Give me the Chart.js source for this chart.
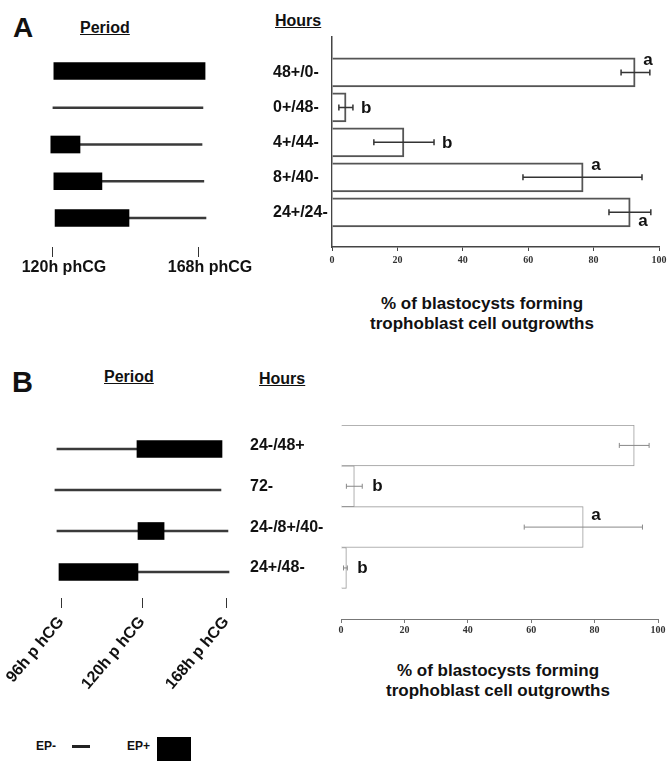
<!DOCTYPE html>
<html>
<head>
<meta charset="utf-8">
<script src="https://cdn.jsdelivr.net/npm/chart.js@4/dist/chart.umd.min.js"></script>
<style>
  body { margin: 0; background: #fff; }
  #page { position: relative; width: 670px; height: 761px; overflow: hidden;
          font-family: "Liberation Sans", Arial, sans-serif; font-weight: bold; color: #111; }
  #page canvas, #page .t { position: absolute; }
  .t { white-space: nowrap; }
  .panel { font-size: 28px; line-height: 28px; }
  .head { font-size: 16px; line-height: 16px; text-decoration: underline; }
  .axis-title { font-size: 17px; line-height: 20px; text-align: center; width: 300px; }
  .legend { font-size: 12px; line-height: 12px; }
  .swatch { position: absolute; }
</style>
</head>
<body>
<div id="page">
  <div class="t panel" style="left:13px;top:14px">A</div>
  <div class="t head" style="left:80px;top:20px">Period</div>
  <div class="t head" style="left:275px;top:13px">Hours</div>
  <canvas id="period-a" width="265" height="247" style="left:0;top:30px"></canvas>
  <canvas id="bars-a" width="397" height="241" style="left:273px;top:36px"></canvas>
  <div class="t axis-title" style="left:332px;top:294px">% of blastocysts forming<br>trophoblast cell outgrowths</div>

  <div class="t panel" style="left:12px;top:368px;font-size:29px">B</div>
  <div class="t head" style="left:104px;top:369px">Period</div>
  <div class="t head" style="left:259px;top:371px">Hours</div>
  <canvas id="period-b" width="250" height="278" style="left:0;top:420px"></canvas>
  <canvas id="bars-b" width="420" height="224" style="left:250px;top:425px"></canvas>
  <div class="t axis-title" style="left:348px;top:661px">% of blastocysts forming<br>trophoblast cell outgrowths</div>

  <div class="t legend" style="left:36px;top:740px">EP-</div>
  <div class="swatch" style="left:72px;top:745px;width:18px;height:3px;background:#222"></div>
  <div class="t legend" style="left:127px;top:740px">EP+</div>
  <div class="swatch" style="left:157px;top:737px;width:34px;height:24px;background:#000"></div>
</div>
<script>
// ---- panel A data ----
const hoursA = ['48+/0-', '0+/48-', '4+/44-', '8+/40-', '24+/24-'];
const outgrowthA = [92.7, 4.3, 22.0, 76.8, 91.2];
const errLowA = [88.4, 2.1, 12.8, 58.4, 84.7];
const errHighA = [97.2, 6.4, 31.2, 94.8, 97.5];
const lettersA = ['a', 'b', 'b', 'a', 'a'];
// period diagram, hours p hCG: EP+ (thick) and EP- (thin) segments per row
const epPlusA = [[120.3, 170], null, [119.3, 128.9], [120.3, 136.1], [120.7, 145]];
const epMinusA = [null, [120, 169.3], [128.9, 169], [136.1, 169.6], [145, 170.3]];
const periodTicksA = [120, 168];

// ---- panel B data ----
const hoursB = ['24-/48+', '72-', '24-/8+/40-', '24+/48-'];
const outgrowthB = [92.5, 4.2, 76.4, 1.7];
const errLowB = [87.8, 1.7, 57.8, 0.8];
const errHighB = [97.2, 6.7, 95.1, 2.0];
const lettersB = ['', 'b', 'a', 'b'];
const epPlusB = [[118.5, 165.7], null, [118.8, 132.6], [95.4, 118.8]];
const epMinusB = [[94.8, 118.5], [94.2, 165.1], [94.8, 169.1], [118.8, 169.7]];
const periodTicksB = [96, 120, 168];
// the B diagram is schematic: 96-120h takes about as much room as 120-168h
const periodUnitsB = [0, 0.491, 1];

const FONT = '"Liberation Sans", Arial, sans-serif';
Chart.defaults.font.family = FONT;
Chart.defaults.color = '#111';

const LinearScale = Chart.LinearScale || Chart.registry.getScale('linear');

function schematicUnit(v) {
  const k = periodTicksB, u = periodUnitsB;
  let i = 1;
  while (i < k.length - 1 && v > k[i]) i++;
  return u[i - 1] + (v - k[i - 1]) * (u[i] - u[i - 1]) / (k[i] - k[i - 1]);
}

class SchematicScale extends LinearScale {
  getPixelForValue(value) {
    const u0 = schematicUnit(this.min), u1 = schematicUnit(this.max);
    return this.getPixelForDecimal((schematicUnit(value) - u0) / (u1 - u0));
  }
}
SchematicScale.id = 'schematic';
SchematicScale.defaults = LinearScale.defaults;
Chart.register(SchematicScale);

function rows(segments) {
  return segments.map((s, i) => s ? { x: s, y: i } : null).filter(Boolean);
}

function baseOptions(scales, extra) {
  return Object.assign({
    responsive: false, animation: false, events: [], indexAxis: 'y',
    layout: { autoPadding: false, padding: 0 },
    plugins: { legend: { display: false }, tooltip: { enabled: false } },
    scales
  }, extra || {});
}

function fixHeight(h) {
  return s => { s.height = h; s.paddingLeft = s.paddingRight = 0; };
}
function fixWidth(w) {
  return s => { s.width = w; s.paddingTop = s.paddingBottom = 0; };
}

// error bars and significance letters drawn on top of the bars
function marksPlugin(low, high, letters, place, st) {
  return {
    id: 'marks',
    afterDatasetsDraw(chart) {
      const { ctx, scales: { x } } = chart;
      const bars = chart.getDatasetMeta(0).data;
      ctx.save();
      ctx.strokeStyle = st.color;
      ctx.lineWidth = st.width;
      low.forEach((lo, i) => {
        const cy = bars[i].y;
        const x0 = x.getPixelForValue(lo), x1 = x.getPixelForValue(high[i]);
        ctx.beginPath();
        ctx.moveTo(x0, cy); ctx.lineTo(x1, cy);
        ctx.moveTo(x0, cy - st.cap); ctx.lineTo(x0, cy + st.cap);
        ctx.moveTo(x1, cy - st.cap); ctx.lineTo(x1, cy + st.cap);
        ctx.stroke();
      });
      ctx.fillStyle = '#111';
      ctx.font = 'bold 17px ' + FONT;
      ctx.textAlign = 'left';
      ctx.textBaseline = 'alphabetic';
      letters.forEach((t, i) => {
        if (!t) return;
        const bar = bars[i], half = bar.height / 2;
        let tx, ty;
        if (place[i] === 'right') {
          tx = x.getPixelForValue(high[i]) + st.dxRight; ty = bar.y + st.dyRight;
        } else if (place[i] === 'top') {
          tx = bar.x + st.dxEnd; ty = bar.y - half + st.dyTop;
        } else {
          tx = bar.x + st.dxEnd; ty = bar.y + half + st.dyBottom;
        }
        ctx.fillText(t, tx, ty);
      });
      ctx.restore();
    }
  };
}

function periodChart(id, plus, minus, xScale, yMin, yMax) {
  new Chart(document.getElementById(id), {
    type: 'bar',
    data: {
      datasets: [
        { data: rows(plus), backgroundColor: '#000', barThickness: 17, grouped: false },
        { data: rows(minus), backgroundColor: '#3a3a3a', barThickness: 2, grouped: false }
      ]
    },
    options: baseOptions({
      x: xScale,
      y: { type: 'linear', display: false, reverse: true, min: yMin, max: yMax, offset: false }
    })
  });
}

function outgrowthChart(id, labels, values, yMin, yMax, yWidth, padRight, style, marks) {
  new Chart(document.getElementById(id), {
    type: 'bar',
    data: {
      datasets: [{
        data: values.map((v, i) => ({ x: v, y: i })),
        backgroundColor: '#fff',
        borderColor: style.barBorder,
        borderWidth: style.barBorderWidth,
        barThickness: style.barThickness,
        barPercentage: 1, categoryPercentage: 1
      }]
    },
    options: baseOptions({
      x: {
        type: 'linear', min: 0, max: 100,
        ticks: { stepSize: 20, padding: style.tickPad, color: '#333',
                 font: { family: '"Liberation Serif", "Times New Roman", serif', weight: 'bold', size: 10 } },
        grid: { drawOnChartArea: false, tickLength: 4, color: style.axis },
        border: { color: style.axis, width: style.axisWidth },
        afterFit: fixHeight(30)
      },
      y: {
        type: 'linear', reverse: true, min: yMin, max: yMax, offset: false,
        afterBuildTicks: s => { s.ticks = labels.map((_, i) => ({ value: i })); },
        ticks: { autoSkip: false, crossAlign: 'far', padding: 0, color: '#111',
                 font: { weight: 'bold', size: 16 }, callback: v => labels[v] },
        grid: { display: false },
        border: { display: style.yBorder, color: style.axis, width: style.axisWidth },
        afterFit: fixWidth(yWidth)
      }
    }, { layout: { autoPadding: false, padding: { right: padRight } } }),
    plugins: [marks]
  });
}

// ---- panel A ----
periodChart('period-a', epPlusA, epMinusA, {
  type: 'linear', min: 102.6, max: 189.7,
  afterBuildTicks: s => { s.ticks = periodTicksA.map(v => ({ value: v })); },
  ticks: { autoSkip: false, maxRotation: 0, labelOffset: 11, padding: 1, color: '#111',
           font: { weight: 'bold', size: 16 }, callback: v => v + 'h phCG' },
  grid: { drawOnChartArea: false, tickLength: 10, color: '#333' },
  border: { display: false },
  afterFit: fixHeight(30)
}, -1.116, 4.789);

outgrowthChart('bars-a', hoursA, outgrowthA, -1.04, 4.99, 59, 11,
  { barBorder: '#555', barBorderWidth: 2, barThickness: 29, axis: '#444', axisWidth: 1.5,
    yBorder: true, tickPad: 3 },
  marksPlugin(errLowA, errHighA, lettersA, ['top', 'right', 'right', 'top', 'bottom'],
    { color: '#333', width: 1.5, cap: 3, dxRight: 8, dxEnd: 8, dyRight: 5.5, dyTop: 7, dyBottom: -1 }));

// ---- panel B ----
periodChart('period-b', epPlusB, epMinusB, {
  type: 'schematic', min: 77.93, max: 181.7,
  afterBuildTicks: s => { s.ticks = periodTicksB.map(v => ({ value: v })); },
  ticks: { autoSkip: false, minRotation: 50, maxRotation: 50, padding: 5, color: '#111',
           font: { weight: 'bold', size: 16 }, callback: v => v + 'h p hCG' },
  grid: { drawOnChartArea: false, tickLength: 10, color: '#333' },
  border: { display: false },
  afterFit: fixHeight(100)
}, -0.707, 3.634);

outgrowthChart('bars-b', hoursB, outgrowthB, -0.5, 4.25, 91, 12,
  { barBorder: '#999', barBorderWidth: 1, barThickness: undefined, axis: '#777', axisWidth: 1,
    yBorder: false, tickPad: 1 },
  marksPlugin(errLowB, errHighB, lettersB, [null, 'right', 'top', 'right'],
    { color: '#888', width: 1, cap: 2.5, dxRight: 10, dxEnd: 8, dyRight: 5, dyTop: 13, dyBottom: -1 }));
</script>
</body>
</html>
